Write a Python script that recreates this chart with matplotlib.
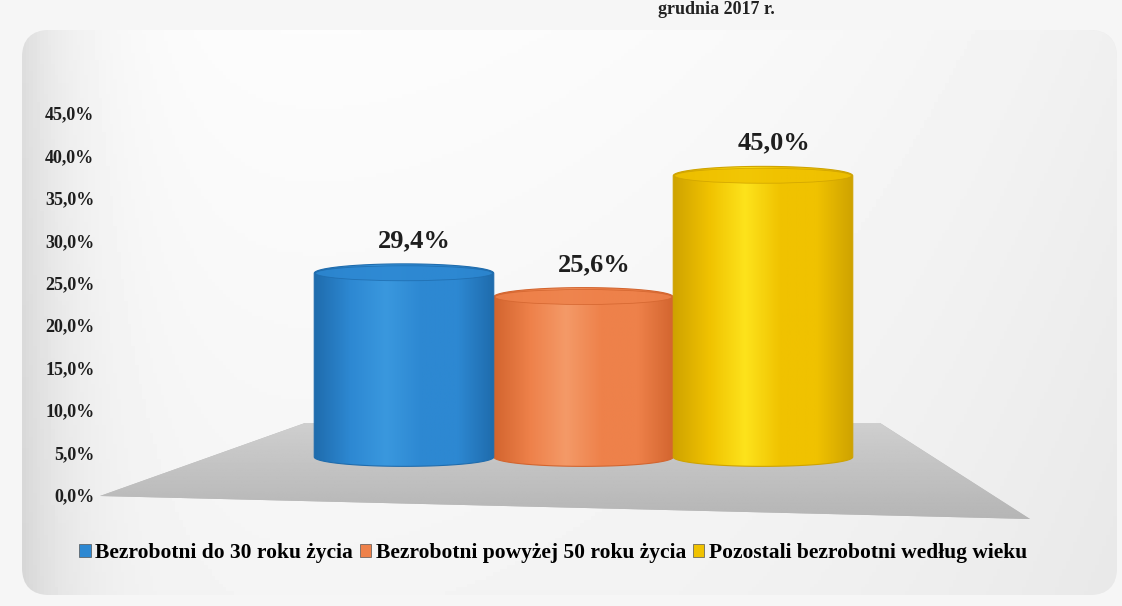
import matplotlib.pyplot as plt
import numpy as np
from matplotlib.patches import FancyBboxPatch, Polygon, PathPatch, Ellipse, Patch
from matplotlib.path import Path
from matplotlib.colors import LinearSegmentedColormap

categories = ["Bezrobotni do 30 roku życia",
              "Bezrobotni powyżej 50 roku życia",
              "Pozostali bezrobotni według wieku"]
values = [29.4, 25.6, 45.0]
value_labels = ["29,4%", "25,6%", "45,0%"]
yticks = [0, 5, 10, 15, 20, 25, 30, 35, 40, 45]

# edge / middle / highlight shades for each cylinder
shades = [("#1f6cad", "#2d88d2", "#3a98de"),
          ("#d3652f", "#ee814a", "#f49a68"),
          ("#cfa300", "#f0c200", "#fde31c")]
draw_order = [1, 0, 2]

serif = "Liberation Serif"

fig = plt.figure(figsize=(11.22, 6.06), dpi=100)
fig.patch.set_facecolor("#f6f6f6")

# background panel + floor, in pixel coordinates
bg = fig.add_axes([0, 0, 1, 1])
bg.set_xlim(0, 1122)
bg.set_ylim(606, 0)
bg.axis("off")

panel = FancyBboxPatch((22, 30), 1095, 565, boxstyle="round,pad=0,rounding_size=28",
                       facecolor="#ebebeb", edgecolor="none")
bg.add_patch(panel)
gx = np.linspace(0, 1, 300)
gy = np.linspace(0, 1, 150)
GX, GY = np.meshgrid(gx, gy)
grad = 0.99 - 0.12 * np.exp(-GX / 0.05) - 0.05 * GX ** 3 - 0.03 * GY
img = bg.imshow(grad, cmap="gray", vmin=0, vmax=1, extent=(22, 1117, 595, 30),
                aspect="auto", zorder=1)
img.set_clip_path(panel)

floor = Polygon([(100, 496), (305, 423), (880, 423), (1030, 519)], closed=True,
                facecolor="#bcbcbc", edgecolor="none", zorder=2)
bg.add_patch(floor)
fgrad = np.linspace(0.81, 0.71, 100)[:, None] * np.ones((1, 50))
fimg = bg.imshow(fgrad, cmap="gray", vmin=0, vmax=1, extent=(100, 1030, 519, 423),
                 aspect="auto", zorder=2)
fimg.set_clip_path(floor)

# title fragment (cut by the scan in the source)
fig.text(775 / 1122, 1 - 1 / 606, "grudnia 2017 r.", ha="right", va="top",
         fontsize=13, fontweight="bold", family=serif, color="#222222")

# value axis
ax = fig.add_axes([100 / 1122, 1 - 495 / 606, 940 / 1122, (495 - 113) / 606])
ax.set_ylim(0, 45)
ax.set_yticks(yticks)
ax.set_yticklabels([f"{t:.1f}%".replace(".", ",") for t in yticks],
                   family=serif, fontweight="bold", fontsize=13, color="#1e1e1e")
ax.tick_params(axis="y", length=0, pad=4)
ax.set_xticks([])
ax.patch.set_visible(False)
for s in ax.spines.values():
    s.set_visible(False)

# cylinders
px_per_unit = 6.25
base_px = 457
y_lo, y_hi = -4, 55
ax2 = fig.add_axes([100 / 1122, (606 - base_px + (-y_lo) * px_per_unit * -1) / 606,
                    940 / 1122, (y_hi - y_lo) * px_per_unit / 606])
ax2.axis("off")

w = 1.0
eh = 3.0
t_low = np.linspace(np.pi, 2 * np.pi, 60)
t_up = np.linspace(0, np.pi, 60)

for k, i in enumerate(draw_order):
    x, v = i, values[i]
    dark, mid, light = shades[i]
    z = 3 + k * 2
    verts = np.vstack([
        np.column_stack([x + w / 2 * np.cos(t_low), eh / 2 * np.sin(t_low)]),
        np.column_stack([x + w / 2 * np.cos(t_up), v + eh / 2 * np.sin(t_up)]),
        [[x - w / 2, 0.0]],
    ])
    body = PathPatch(Path(verts, closed=True), facecolor="none", edgecolor=dark,
                     lw=0.8, zorder=z + 1)
    ax2.add_patch(body)
    cmap = LinearSegmentedColormap.from_list(
        f"cyl{i}", [dark, mid, light, mid, mid, dark])
    strip = np.linspace(0, 1, 200)[None, :]
    im = ax2.imshow(strip, cmap=cmap, extent=(x - w / 2, x + w / 2, -eh / 2, v + eh / 2),
                    aspect="auto", zorder=z)
    im.set_clip_path(body)
    top = Ellipse((x, v), w * 0.985, eh * 0.8, facecolor=mid, edgecolor=dark,
                  lw=0.6, alpha=0.85, zorder=z + 1)
    ax2.add_patch(top)
    ax2.text(x + 0.06, v + 5.2, value_labels[i], ha="center", va="center",
             family=serif, fontweight="bold", fontsize=19, color="#1e1e1e",
             zorder=10)

ax2.set_xlim((100 - 404) / 179.5, (1040 - 404) / 179.5)
ax2.set_ylim(y_lo, y_hi)

handles = [Patch(facecolor=s[1], edgecolor="#555555", lw=0.5) for s in shades]
fig.legend(handles, categories, loc="center", bbox_to_anchor=(553 / 1122, 1 - 553 / 606),
           ncol=3, frameon=False, handlelength=0.55, handleheight=0.6,
           handletextpad=0.2, columnspacing=0.3,
           prop={"family": serif, "weight": "bold", "size": 15.5})

fig.savefig("out.png", dpi=100, facecolor=fig.get_facecolor())
